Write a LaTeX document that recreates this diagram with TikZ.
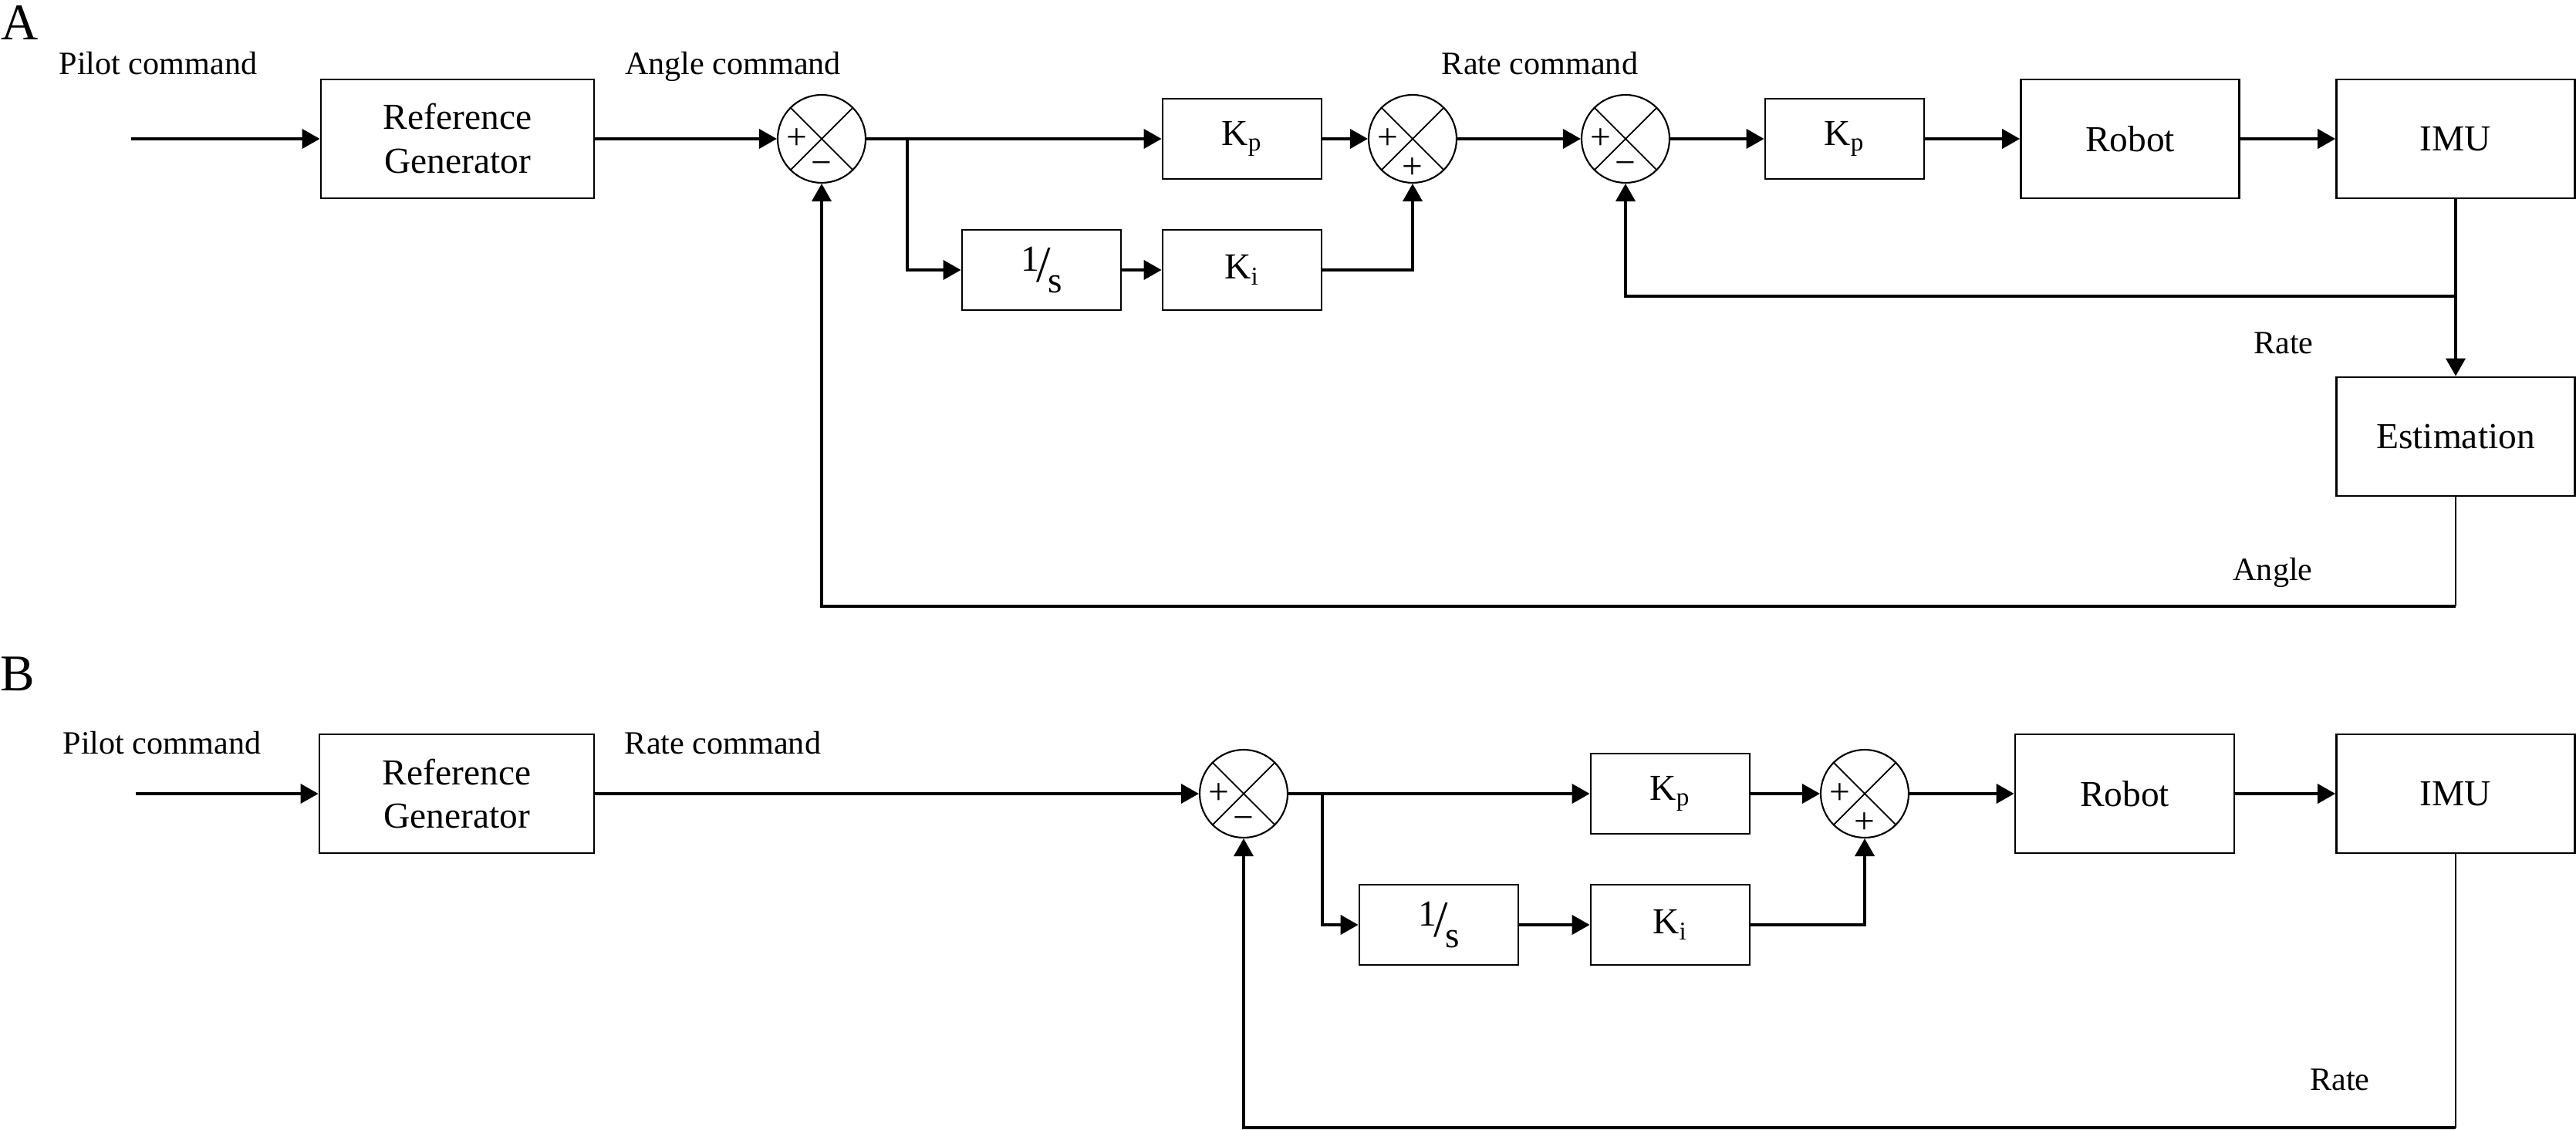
\documentclass[tikz,border=0pt]{standalone}
\usepackage{fontspec}
\setmainfont{Liberation Serif}
\usetikzlibrary{arrows.meta}
\newcommand{\oneovers}{\raisebox{.3em}{1}\kern-.08em{\fontsize{19}{19}\selectfont/}\kern-.08em\raisebox{-.3em}{s}}

\begin{document}
\begin{tikzpicture}[x=1mm,y=-1mm,
  conn/.style={line width=1.1pt,-{Triangle[length=2.3mm,width=2.5mm]}},
  thinwire/.style={line width=0.4pt},
  block/.style={draw,line width=0.8pt,minimum height=15.4mm,inner sep=0pt,align=center,font=\fontsize{13.5}{16.2}\selectfont},
  gain/.style={block,minimum width=20.6mm,minimum height=10.4mm},
  lbl/.style={inner sep=0pt,font=\fontsize{12}{14}\selectfont},
  panel/.style={inner sep=0pt,font=\fontsize{19}{22}\selectfont},
  sign/.style={inner sep=0pt,font=\fontsize{13.5}{14}\selectfont},
  sumpt/.style={circle,draw,line width=0.6pt,minimum size=11.4mm,inner sep=0pt,
    path picture={
      \draw[line width=0.5pt] (path picture bounding box.north west) -- (path picture bounding box.south east)
        (path picture bounding box.north east) -- (path picture bounding box.south west);
      \node[sign] at ([xshift=-3.2mm]path picture bounding box.center) {+};
      \node[sign] at ([yshift=-3.8mm]path picture bounding box.center) {#1};
    }}]
\useasboundingbox (0,0) rectangle (333.9,146.5);

% A
\node[panel] (labA) at (2.6,2.9) {A};
\node[lbl,anchor=base] (pilotA) at (20.5,9.7) {Pilot command};
\coordinate (inA) at (17.0,18);
\node[block,minimum width=35.4mm] (refA) at (59.3,18) {Reference\\Generator};
\node[lbl,anchor=base] (angcmdA) at (95.0,9.7) {Angle command};
\node[sumpt=−] (s1) at (106.5,18) {};
\coordinate (brA) at (117.6,18);
\node[gain] (kpA) at (161.0,18) {K\textsubscript{p}};
\node[gain] (intA) at (135.0,35) {\oneovers};
\node[gain] (kiA) at (161.0,35) {K\textsubscript{i}};
\node[sumpt=+] (s2) at (183.1,18) {};
\node[lbl,anchor=base] (ratecmdA) at (199.6,9.7) {Rate command};
\node[sumpt=−] (s3) at (210.7,18) {};
\node[gain] (kpA2) at (239.1,18) {K\textsubscript{p}};
\node[block,minimum width=28.3mm] (robotA) at (276.1,18) {Robot};
\node[block,minimum width=30.9mm] (imuA) at (318.3,18) {IMU};
\coordinate (fbA) at (318.3,38.4);
\node[lbl,anchor=base] (rateA) at (296.0,45.9) {Rate};
\node[block,minimum width=30.9mm] (estA) at (318.3,56.6) {Estimation};
\node[lbl,anchor=base] (angleA) at (294.6,75.2) {Angle};
\coordinate (botA) at (318.3,78.6);

\draw[conn] (inA) -- (refA);
\draw[conn] (refA) -- (s1);
\draw[conn] (s1) -- (kpA);
\draw[conn] (brA) |- (intA);
\draw[conn] (intA) -- (kiA);
\draw[conn] (kpA) -- (s2);
\draw[conn] (kiA) -| (s2);
\draw[conn] (s2) -- (s3);
\draw[conn] (s3) -- (kpA2);
\draw[conn] (kpA2) -- (robotA);
\draw[conn] (robotA) -- (imuA);
\draw[conn] (imuA) -- (estA);
\draw[conn] (fbA) -| (s3);
\draw[thinwire] (estA) -- (botA);
\draw[conn] (botA) -| (s1);

% B
\node[panel] (labB) at (2.3,87.4) {B};
\node[lbl,anchor=base] (pilotB) at (21.0,97.7) {Pilot command};
\coordinate (inB) at (17.6,102.9);
\node[block,minimum width=35.6mm] (refB) at (59.2,102.9) {Reference\\Generator};
\node[lbl,anchor=base] (ratecmdB) at (93.7,97.7) {Rate command};
\node[sumpt=−] (t1) at (161.2,102.9) {};
\coordinate (brB) at (171.4,102.9);
\node[gain] (kpB) at (216.5,102.9) {K\textsubscript{p}};
\node[gain] (intB) at (186.5,119.9) {\oneovers};
\node[gain] (kiB) at (216.5,119.9) {K\textsubscript{i}};
\node[sumpt=+] (t2) at (241.7,102.9) {};
\node[block,minimum width=28.4mm] (robotB) at (275.4,102.9) {Robot};
\node[block,minimum width=30.9mm] (imuB) at (318.3,102.9) {IMU};
\node[lbl,anchor=base] (rateB) at (303.3,141.3) {Rate};
\coordinate (botB) at (318.3,146.2);

\draw[conn] (inB) -- (refB);
\draw[conn] (refB) -- (t1);
\draw[conn] (t1) -- (kpB);
\draw[conn] (brB) |- (intB);
\draw[conn] (intB) -- (kiB);
\draw[conn] (kpB) -- (t2);
\draw[conn] (kiB) -| (t2);
\draw[conn] (t2) -- (robotB);
\draw[conn] (robotB) -- (imuB);
\draw[thinwire] (imuB) -- (botB);
\draw[conn] (botB) -| (t1);
\end{tikzpicture}
\end{document}
